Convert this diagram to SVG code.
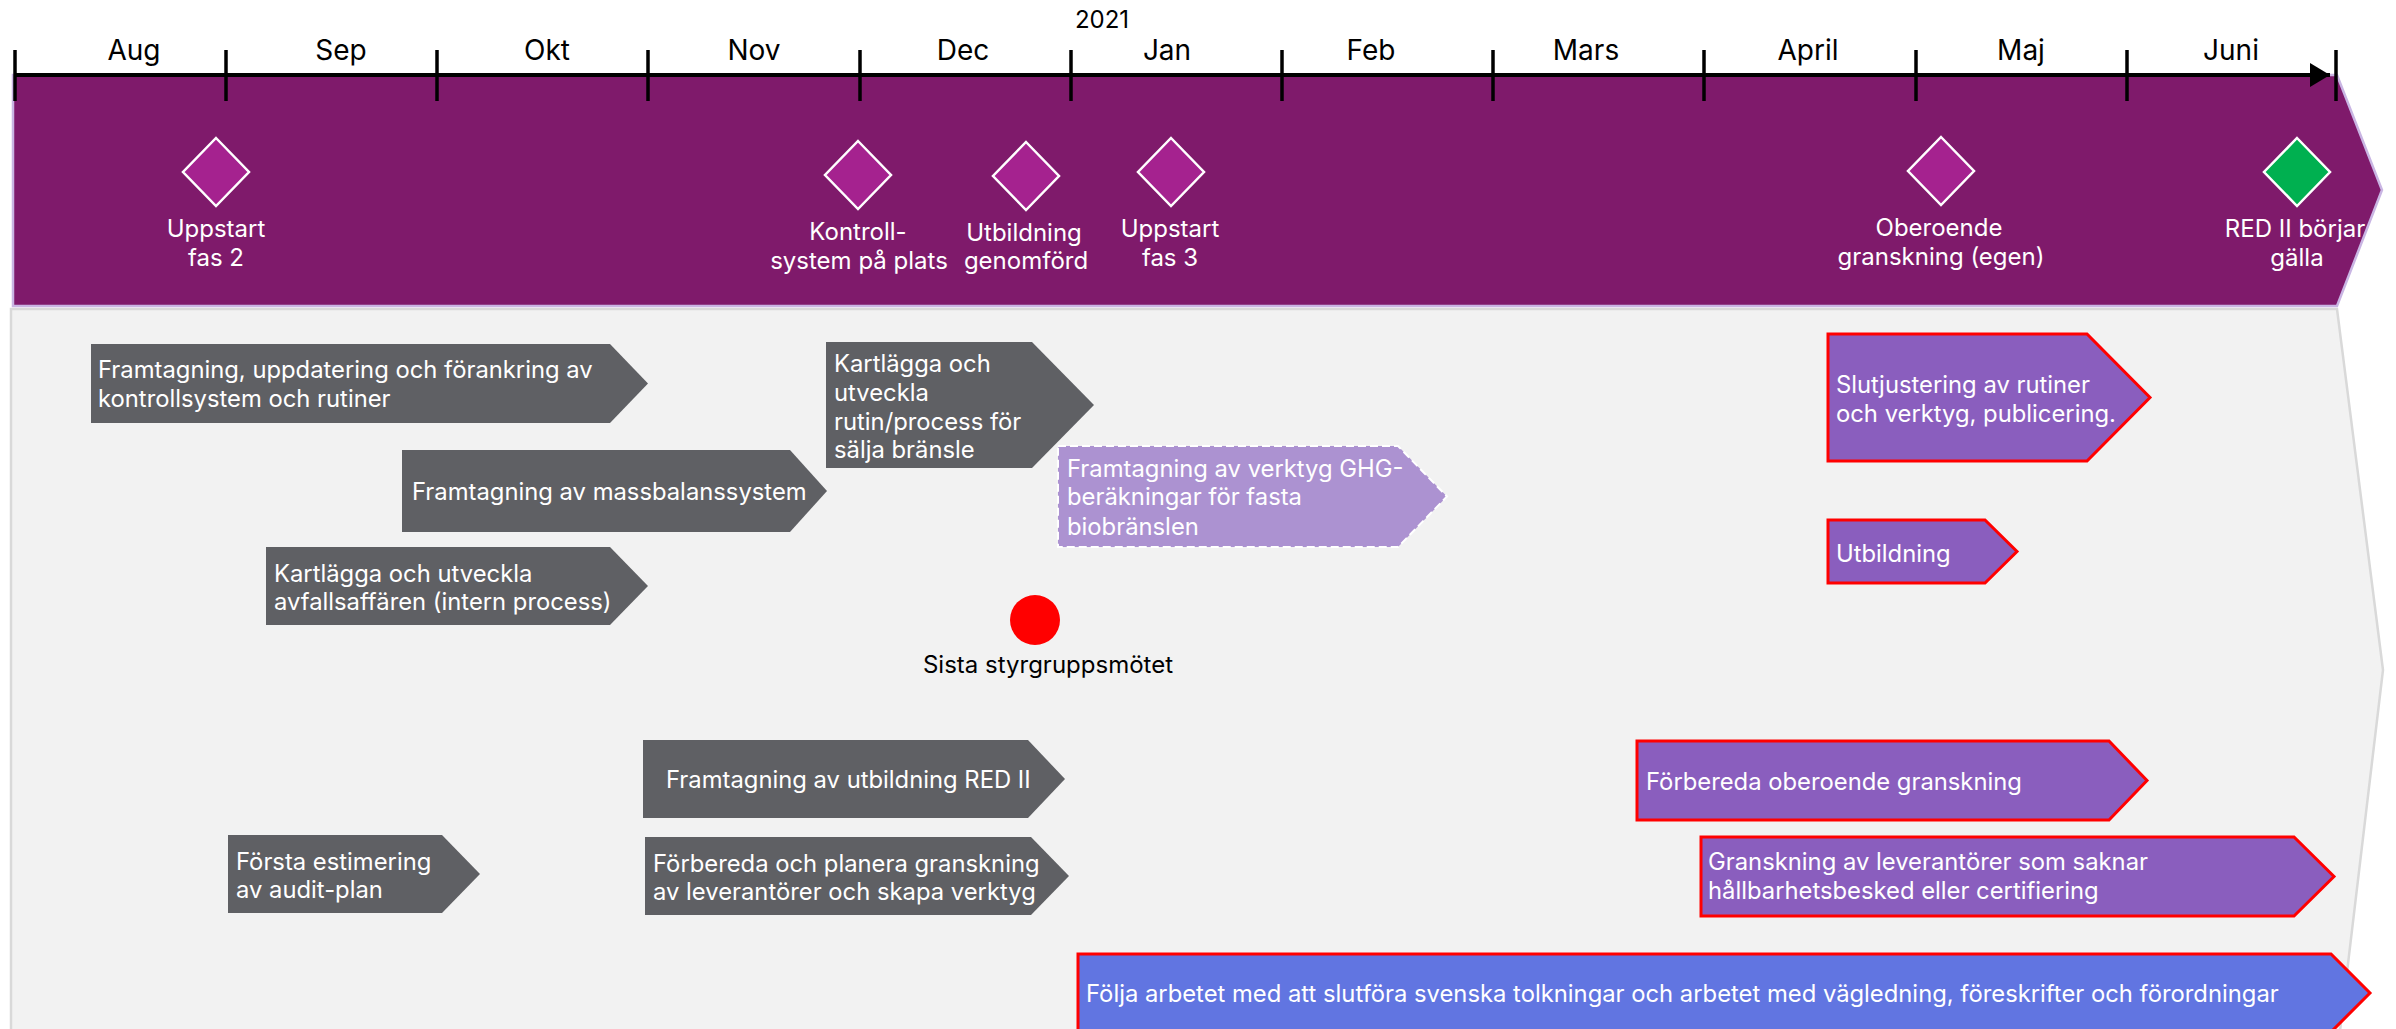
<svg xmlns="http://www.w3.org/2000/svg" width="2396" height="1029" viewBox="0 0 2396 1029">
  <style>
    text { font-family: Inter, "Liberation Sans", Arial, sans-serif; }
    .month { font-size: 28px; fill: #000; text-anchor: middle; }
    .year { font-size: 24px; fill: #000; text-anchor: middle; }
    .ms { fill: #A5228F; stroke: #fff; stroke-width: 2.5; }
    .ms-go { fill: #00B050; stroke: #fff; stroke-width: 2.5; }
    .ms-label { font-size: 24px; fill: #fff; text-anchor: middle; }
    .task-label { font-size: 23.8px; fill: #fff; }
    .dark { fill: #5F6064; }
    .draft { fill: #AC92D1; stroke: #fff; stroke-width: 2; stroke-dasharray: 8 4; }
    .final { fill: #8A5EBE; stroke: #FF0000; stroke-width: 3; }
    .follow { fill: #6175E1; stroke: #FF0000; stroke-width: 3; }
    .tick { stroke: #000; stroke-width: 3.5; }
  </style>
  <defs>
    <marker id="axis-head" markerWidth="6" markerHeight="6" refX="5" refY="3" orient="auto" markerUnits="strokeWidth">
      <path d="M0,0 L5,3 L0,6 z" fill="#000"/>
    </marker>
  </defs>

  <!-- background bands -->
  <g id="work-area">
    <polygon points="11,309 2337,309 2383,670 2340,1031 11,1031" fill="#F2F2F2" stroke="#D9D9D9" stroke-width="2.5"/>
  </g>
  <g id="milestone-band">
    <polygon points="13,75 2337,75 2382,190 2337,306 13,306" fill="#7F1A6B" stroke="#C9B5E3" stroke-width="2.5"/>
  </g>

  <!-- time axis -->
  <g id="axis">
    <line x1="15" y1="75" x2="2330" y2="75" stroke="#000" stroke-width="4" marker-end="url(#axis-head)"/>
    <line class="tick" x1="15" y1="50" x2="15" y2="101"/>
    <line class="tick" x1="226" y1="50" x2="226" y2="101"/>
    <line class="tick" x1="437" y1="50" x2="437" y2="101"/>
    <line class="tick" x1="648" y1="50" x2="648" y2="101"/>
    <line class="tick" x1="860" y1="50" x2="860" y2="101"/>
    <line class="tick" x1="1071" y1="50" x2="1071" y2="101"/>
    <line class="tick" x1="1282" y1="50" x2="1282" y2="101"/>
    <line class="tick" x1="1493" y1="50" x2="1493" y2="101"/>
    <line class="tick" x1="1704" y1="50" x2="1704" y2="101"/>
    <line class="tick" x1="1916" y1="50" x2="1916" y2="101"/>
    <line class="tick" x1="2127" y1="50" x2="2127" y2="101"/>
    <line class="tick" x1="2336" y1="50" x2="2336" y2="101"/>
    <text class="year" x="1102" y="28">2021</text>
    <text class="month" x="134" y="60">Aug</text>
    <text class="month" x="341" y="60">Sep</text>
    <text class="month" x="547" y="60">Okt</text>
    <text class="month" x="754" y="60">Nov</text>
    <text class="month" x="963" y="60">Dec</text>
    <text class="month" x="1167" y="60">Jan</text>
    <text class="month" x="1371" y="60">Feb</text>
    <text class="month" x="1586" y="60">Mars</text>
    <text class="month" x="1808" y="60">April</text>
    <text class="month" x="2021" y="60">Maj</text>
    <text class="month" x="2231" y="60">Juni</text>
  </g>

  <!-- milestones -->
  <g id="ms-uppstart-fas2">
    <polygon class="ms" points="216,138 249,172 216,206 183,172"/>
    <text class="ms-label" x="216" y="237">Uppstart</text>
    <text class="ms-label" x="216" y="266">fas 2</text>
  </g>
  <g id="ms-kontrollsystem">
    <polygon class="ms" points="858,141 891,175 858,209 825,175"/>
    <text class="ms-label" x="858" y="240">Kontroll-</text>
    <text class="ms-label" x="859" y="269">system på plats</text>
  </g>
  <g id="ms-utbildning">
    <polygon class="ms" points="1026,142 1059,176 1026,210 993,176"/>
    <text class="ms-label" x="1024" y="241">Utbildning</text>
    <text class="ms-label" x="1026" y="269">genomförd</text>
  </g>
  <g id="ms-uppstart-fas3">
    <polygon class="ms" points="1171,138 1204,172 1171,206 1138,172"/>
    <text class="ms-label" x="1170" y="237">Uppstart</text>
    <text class="ms-label" x="1170" y="266">fas 3</text>
  </g>
  <g id="ms-oberoende">
    <polygon class="ms" points="1941,137 1974,171 1941,205 1908,171"/>
    <text class="ms-label" x="1939" y="236">Oberoende</text>
    <text class="ms-label" x="1941" y="265">granskning (egen)</text>
  </g>
  <g id="ms-red2">
    <polygon class="ms-go" points="2297,138 2330,172 2297,206 2264,172"/>
    <text class="ms-label" x="2295" y="237">RED II börjar</text>
    <text class="ms-label" x="2297" y="266">gälla</text>
  </g>

  <!-- activities -->
  <g id="task-kontrollsystem">
    <polygon class="dark" points="91,344 610,344 648,383.5 610,423 91,423"/>
    <text class="task-label" x="98" y="378">Framtagning, uppdatering och förankring av</text>
    <text class="task-label" x="98" y="407">kontrollsystem och rutiner</text>
  </g>
  <g id="task-massbalans">
    <polygon class="dark" points="402,450 790,450 827,491 790,532 402,532"/>
    <text class="task-label" x="412" y="500">Framtagning av massbalanssystem</text>
  </g>
  <g id="task-avfall">
    <polygon class="dark" points="266,547 610,547 648,586 610,625 266,625"/>
    <text class="task-label" x="274" y="582">Kartlägga och utveckla</text>
    <text class="task-label" x="274" y="610">avfallsaffären (intern process)</text>
  </g>
  <g id="task-salja">
    <polygon class="dark" points="826,342 1032,342 1094,405 1032,468 826,468"/>
    <text class="task-label" x="834" y="372">Kartlägga och</text>
    <text class="task-label" x="834" y="401">utveckla</text>
    <text class="task-label" x="834" y="430">rutin/process för</text>
    <text class="task-label" x="834" y="458">sälja bränsle</text>
  </g>
  <g id="task-ghg">
    <polygon class="draft" points="1058,446 1398,446 1447,496.5 1398,547 1058,547"/>
    <text class="task-label" x="1067" y="477">Framtagning av verktyg GHG-</text>
    <text class="task-label" x="1067" y="505">beräkningar för fasta</text>
    <text class="task-label" x="1067" y="535">biobränslen</text>
  </g>
  <g id="meeting">
    <circle cx="1035" cy="620" r="25" fill="#FF0000"/>
    <text x="1048" y="673" font-size="24" fill="#000" text-anchor="middle">Sista styrgruppsmötet</text>
  </g>
  <g id="task-slutjustering">
    <polygon class="final" points="1828,334 2087,334 2150,397.5 2087,461 1828,461"/>
    <text class="task-label" x="1836" y="393">Slutjustering av rutiner</text>
    <text class="task-label" x="1836" y="422">och verktyg, publicering.</text>
  </g>
  <g id="task-utbildning">
    <polygon class="final" points="1828,520 1985,520 2017,551.5 1985,583 1828,583"/>
    <text class="task-label" x="1836" y="562">Utbildning</text>
  </g>
  <g id="task-utbildning-red2">
    <polygon class="dark" points="643,740 1028,740 1065,779 1028,818 643,818"/>
    <text class="task-label" x="666" y="788">Framtagning av utbildning RED II</text>
  </g>
  <g id="task-planera-granskning">
    <polygon class="dark" points="645,837 1031,837 1069,876 1031,915 645,915"/>
    <text class="task-label" x="653" y="872">Förbereda och planera granskning</text>
    <text class="task-label" x="653" y="900">av leverantörer och skapa verktyg</text>
  </g>
  <g id="task-audit-plan">
    <polygon class="dark" points="228,835 442,835 480,874 442,913 228,913"/>
    <text class="task-label" x="236" y="870">Första estimering</text>
    <text class="task-label" x="236" y="898">av audit-plan</text>
  </g>
  <g id="task-oberoende">
    <polygon class="final" points="1637,741 2109,741 2147,780.5 2109,820 1637,820"/>
    <text class="task-label" x="1646" y="790">Förbereda oberoende granskning</text>
  </g>
  <g id="task-leverantorer">
    <polygon class="final" points="1701,837 2294,837 2334,876.5 2294,916 1701,916"/>
    <text class="task-label" x="1708" y="870">Granskning av leverantörer som saknar</text>
    <text class="task-label" x="1708" y="899">hållbarhetsbesked eller certifiering</text>
  </g>
  <g id="task-folja">
    <polygon class="follow" points="1078,954 2331,954 2370,993 2331,1032 1078,1032"/>
    <text class="task-label" x="1086" y="1002">Följa arbetet med att slutföra svenska tolkningar och arbetet med vägledning, föreskrifter och förordningar</text>
  </g>

  <!-- no connectors between activities -->
  <g id="connectors"/>
</svg>
